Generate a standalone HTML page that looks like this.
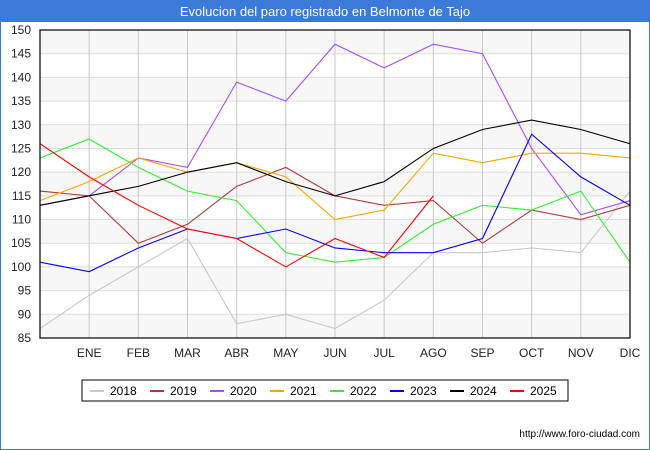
<!DOCTYPE html>
<html><head><meta charset="utf-8"><style>
body{margin:0;width:650px;height:450px;background:#fff;font-family:"Liberation Sans","DejaVu Sans",sans-serif;overflow:hidden}
</style></head><body>
<svg id="c" width="650" height="450" style="position:absolute;left:0;top:0">
<rect x="0" y="0" width="650" height="450" fill="#fff"/>
<rect x="0" y="0" width="650" height="450" fill="none" stroke="#3b7ad9" stroke-width="2"/>
<rect x="0" y="0" width="650" height="22" fill="#3b7ad9"/>
<text x="325" y="16" text-anchor="middle" fill="#fff" font-size="13">Evolucion del paro registrado en Belmonte de Tajo</text>
<g id="plot"></g>
<text x="640" y="437" text-anchor="end" font-size="10" fill="#000">http://www.foro-ciudad.com</text>
</svg>
<script>
const categories=["","ENE","FEB","MAR","ABR","MAY","JUN","JUL","AGO","SEP","OCT","NOV","DIC"];
const yTicks=[85,90,95,100,105,110,115,120,125,130,135,140,145,150];
const seriesNames=["2018","2019","2020","2021","2022","2023","2024","2025"];
const seriesColors=["#c8c8c8","#b03a3a","#a64dff","#ffa500","#33ee33","#0000ff","#000000","#ff0000"];
const s2018=[87,94,100,106,88,90,87,93,103,103,104,103,116];
const s2019=[116,115,105,109,117,121,115,113,114,105,112,110,113];
const s2020=[113,115,123,121,139,135,147,142,147,145,125,111,114];
const s2021=[114,118,123,120,122,119,110,112,124,122,124,124,123];
const s2022=[123,127,121,116,114,103,101,102,109,113,112,116,101];
const s2023=[101,99,104,108,106,108,104,103,103,106,128,119,113];
const s2024=[113,115,117,120,122,118,115,118,125,129,131,129,126];
const s2025=[126,119,113,108,106,100,106,102,115];
const allSeries=[s2018,s2019,s2020,s2021,s2022,s2023,s2024,s2025];
const NS="http://www.w3.org/2000/svg";
const L=40,R=630,T=30,B=338;
const x=i=>L+(R-L)*i/(categories.length-1);
const y=v=>B-(v-85)/(150-85)*(B-T);
const g=document.getElementById('plot');
function mk(t,a){const e=document.createElementNS(NS,t);for(const k in a)e.setAttribute(k,a[k]);g.appendChild(e);return e;}
for(let i=0;i<yTicks.length-1;i++){
 if((yTicks.length-2-i)%2===0){const r=mk('rect',{x:L,y:y(yTicks[i+1]),width:R-L,height:y(yTicks[i])-y(yTicks[i+1]),fill:'#f7f7f7'});
 
 }
}
yTicks.forEach(v=>{const l=mk('line',{x1:L,x2:R,y1:y(v),y2:y(v),stroke:'#dddddd'});
 
 
 const t=mk('text',{x:L-9,y:y(v)+4,'text-anchor':'end','font-size':'12',fill:'#222'});t.textContent=v;
 
 });
categories.forEach((c,i)=>{if(i===0)return;const l=mk('line',{x1:x(i),x2:x(i),y1:T,y2:B,stroke:'#c8c8c8'});
 
 
 const t=mk('text',{x:x(i),y:B+19,'text-anchor':'middle','font-size':'12',fill:'#222'});t.textContent=c;
 
 });
allSeries.forEach((s,k)=>{const p=mk('polyline',{points:s.map((v,i)=>x(i)+','+y(v)).join(' '),fill:'none',stroke:seriesColors[k],'stroke-width':'1.1'});
 
 });
const ax=mk('rect',{x:L,y:T,width:R-L,height:B-T,fill:'none',stroke:'#000','stroke-width':'1.2'});


const lg=mk('rect',{x:82,y:380,width:486,height:21,fill:'#fff',stroke:'#000'});


seriesNames.forEach((n,k)=>{const lx=90+k*60;
 const l=mk('line',{x1:lx,x2:lx+14,y1:391,y2:391,stroke:seriesColors[k],'stroke-width':'2'});
 
 
 const t=mk('text',{x:lx+20,y:395,'font-size':'12',fill:'#000'});t.textContent=n;
 
 });
</script>
</body></html>
